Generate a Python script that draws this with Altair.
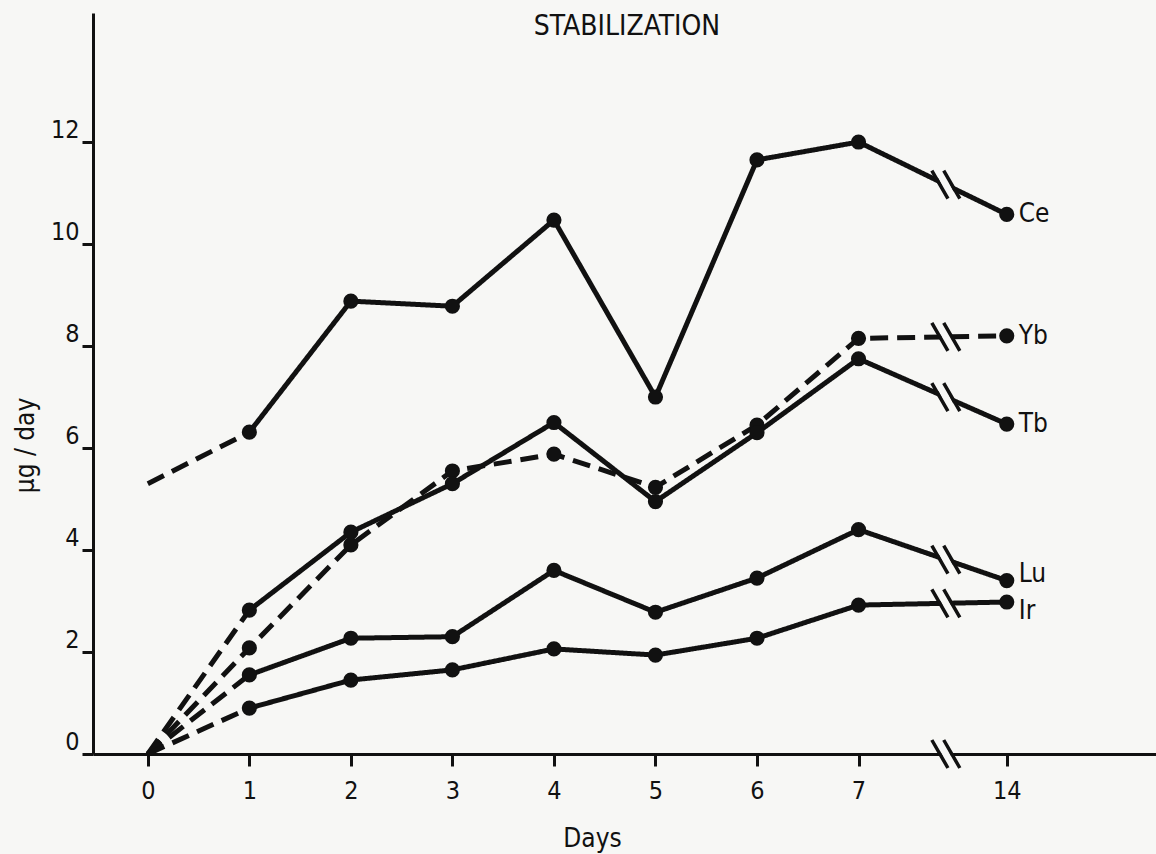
import altair as alt
import pandas as pd

# ---- data ----
days = [0, 1, 2, 3, 4, 5, 6, 7, 14]
series_names = ["Ce", "Yb", "Tb", "Lu", "Ir"]
ce_values = [5.3, 6.31, 8.88, 8.78, 10.47, 7.0, 11.65, 12.0, 10.58]
yb_values = [0.0, 2.08, 4.1, 5.55, 5.88, 5.23, 6.45, 8.15, 8.2]
tb_values = [0.0, 2.82, 4.35, 5.3, 6.5, 4.95, 6.3, 7.75, 6.47]
lu_values = [0.0, 1.55, 2.27, 2.3, 3.6, 2.78, 3.45, 4.4, 3.4]
ir_values = [0.0, 0.9, 1.45, 1.65, 2.06, 1.94, 2.27, 2.92, 2.98]
all_dashed = ["Yb"]
y_tick_values = [0, 2, 4, 6, 8, 10, 12]
x_tick_labels = ["0", "1", "2", "3", "4", "5", "6", "7", "14"]
title_text = "STABILIZATION"
x_title = "Days"
y_title = "µg / day"

# ---- layout helpers (axis with a break between 7 and 14) ----
POS14 = 8.46
BREAK_POS = 7.86
X_DOMAIN = [-0.54, 9.93]
Y_DOMAIN = [0, 14.53]


def day_to_pos(d):
    return POS14 if d == 14 else float(d)


values_by_name = dict(zip(series_names, [ce_values, yb_values, tb_values, lu_values, ir_values]))

line_rows, point_rows, break_rows, label_rows = [], [], [], []
for name in series_names:
    vals = values_by_name[name]
    for i, (d, v) in enumerate(zip(days, vals)):
        pos = day_to_pos(d)
        if name in all_dashed:
            line_rows.append(dict(series=name, seg=name + "_a", style="dashed", pos=pos, value=v, order=i))
        else:
            if i <= 1:
                line_rows.append(dict(series=name, seg=name + "_lead", style="dashed", pos=pos, value=v, order=i))
            if i >= 1:
                line_rows.append(dict(series=name, seg=name + "_main", style="solid", pos=pos, value=v, order=i))
        if d >= 1:
            point_rows.append(dict(series=name, pos=pos, value=v))
    v7, v14 = vals[days.index(7)], vals[days.index(14)]
    t = (BREAK_POS - 7) / (POS14 - 7)
    break_rows.append(dict(series=name, pos=BREAK_POS, value=v7 + (v14 - v7) * t))
    label_rows.append(dict(series=name, pos=POS14, value=v14))
break_rows.append(dict(series="axis", pos=BREAK_POS, value=0.0))

lines_df = pd.DataFrame(line_rows)
points_df = pd.DataFrame(point_rows)
breaks_df = pd.DataFrame(break_rows)
labels_df = pd.DataFrame(label_rows)

FONT = "Liberation Sans Narrow, DejaVu Sans Condensed, sans-serif"
INK = "#111111"
BG = "#f7f7f5"

x_scale = alt.Scale(domain=X_DOMAIN, nice=False, zero=False)
y_scale = alt.Scale(domain=Y_DOMAIN, nice=False, zero=False)

tick_pos = [day_to_pos(d) for d in days]
label_expr = "datum.value > 8 ? '14' : format(datum.value, 'd')"

x_enc = alt.X(
    "pos:Q",
    scale=x_scale,
    axis=alt.Axis(
        values=tick_pos,
        labelExpr=label_expr,
        grid=False,
        domainColor=INK,
        domainWidth=3,
        tickColor=INK,
        tickWidth=3,
        tickSize=12,
        labelFont=FONT,
        labelFontSize=25,
        labelColor=INK,
        labelPadding=12,
        title=x_title,
        titleFont=FONT,
        titleFontSize=26,
        titleFontWeight="normal",
        titleColor=INK,
        titleX=499,
        titleY=84,
        titleBaseline="middle",
        titleAlign="center",
    ),
)
y_enc = alt.Y(
    "value:Q",
    scale=y_scale,
    axis=alt.Axis(
        values=y_tick_values,
        grid=False,
        domainColor=INK,
        domainWidth=3,
        tickColor=INK,
        tickWidth=3,
        tickSize=11,
        labelFont=FONT,
        labelFontSize=25,
        labelColor=INK,
        labelPadding=3,
        labelBaseline="alphabetic",
        labelOffset=-5,
        title=y_title,
        titleFont=FONT,
        titleFontSize=26,
        titleFontWeight="normal",
        titleColor=INK,
        titleAngle=270,
        titleX=-68,
        titleY=432,
        titleBaseline="middle",
        titleAlign="center",
    ),
)

lines = alt.Chart(lines_df).mark_line(color=INK, strokeWidth=5, strokeCap="butt").encode(
    x=x_enc,
    y=y_enc,
    detail="seg:N",
    order="order:Q",
    strokeDash=alt.StrokeDash(
        "style:N",
        scale=alt.Scale(domain=["solid", "dashed"], range=[[1, 0], [18, 9]]),
        legend=None,
    ),
)

points = alt.Chart(points_df).mark_point(
    filled=True, color=INK, size=230, opacity=1, shape="circle"
).encode(x=alt.X("pos:Q", scale=x_scale), y=alt.Y("value:Q", scale=y_scale))

gap_shape = "M -0.8 -1 L -0.2 -1 L 0.8 1 L 0.2 1 Z"
gaps = alt.Chart(breaks_df).mark_point(
    filled=True, color=BG, size=784, opacity=1, shape=gap_shape, clip=False
).encode(x=alt.X("pos:Q", scale=x_scale), y=alt.Y("value:Q", scale=y_scale))

slash_shape = "M -1 -1 L 0.15 1 M -0.15 -1 L 1 1"
slashes = alt.Chart(breaks_df).mark_point(
    filled=False, color=INK, size=784, strokeWidth=3.5, opacity=1, shape=slash_shape, clip=False
).encode(x=alt.X("pos:Q", scale=x_scale), y=alt.Y("value:Q", scale=y_scale))

# series labels: Lu and Ir nudged apart as in the reference
label_nudge = {"Lu": -7, "Ir": 9}
label_layers = []
for name in series_names:
    label_layers.append(
        alt.Chart(labels_df)
        .transform_filter(alt.datum.series == name)
        .mark_text(
            align="left", baseline="middle", dx=12, dy=label_nudge.get(name, 0),
            font=FONT, fontSize=26, color=INK,
        )
        .encode(
            x=alt.X("pos:Q", scale=x_scale),
            y=alt.Y("value:Q", scale=y_scale),
            text="series:N",
        )
    )

title = alt.Chart(pd.DataFrame({"t": [title_text]})).mark_text(
    font=FONT, fontSize=28, fontWeight=500, color=INK, align="center", baseline="middle"
).encode(text="t:N", x=alt.value(534), y=alt.value(14))

chart = (
    alt.layer(lines, gaps, slashes, points, *label_layers, title)
    .properties(
        width=1063,
        height=741,
        autosize=alt.AutoSizeParams(type="none"),
        padding={"left": 93, "top": 13, "right": 0, "bottom": 100},
        background=BG,
    )
    .configure_view(stroke=None)
)

chart.save("out.html", embed_options={"renderer": "svg", "actions": False})
